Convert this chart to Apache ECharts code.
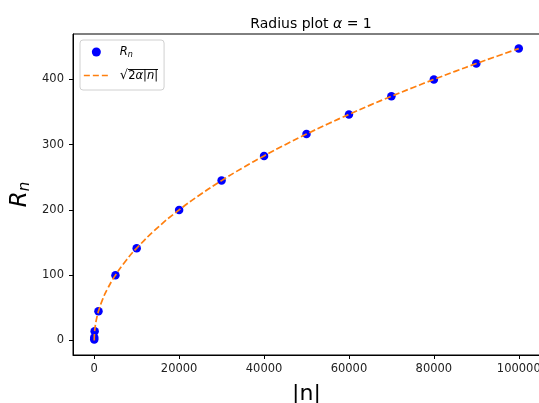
<!DOCTYPE html>
<html><head><meta charset="utf-8">
<script src="https://cdn.jsdelivr.net/npm/echarts@6/dist/echarts.min.js"></script>
<style>html,body{margin:0;padding:0;background:#fff}#c{width:539px;height:403px}</style>
</head><body><div id="c"></div>
<script>
// Data
const pointN = [1, 10, 100, 1000, 5000, 10000, 20000, 30000, 40000, 50000, 60000, 70000, 80000, 90000, 100000];
const pointR = [1.4, 4.5, 14.1, 44.7, 100, 141.4, 200, 244.9, 282.8, 316.2, 346.4, 374.2, 400, 424.3, 447.2];
const curveN = [0, 50, 200, 500, 1000, 2000, 3000, 5000, 7500, 10000, 15000, 20000, 25000, 30000, 35000, 40000, 45000, 50000, 55000, 60000, 65000, 70000, 75000, 80000, 85000, 90000, 95000, 100000];
const curveR = [0, 10, 20, 31.6, 44.7, 63.2, 77.5, 100, 122.5, 141.4, 173.2, 200, 223.6, 244.9, 264.6, 282.8, 300, 316.2, 331.7, 346.4, 360.6, 374.2, 387.3, 400, 412.3, 424.3, 435.9, 447.2];
const xTicks = [0, 20000, 40000, 60000, 80000, 100000];
const yTicks = [0, 100, 200, 300, 400];

const font = 'DejaVu Sans';

// small image used as an overline over the square-root text
const cv = document.createElement('canvas');
cv.width = 4; cv.height = 15;
const cx = cv.getContext('2d');
cx.fillStyle = '#000'; cx.fillRect(0, 0, 4, 1);
const overline = cv.toDataURL();

const chart = echarts.init(document.getElementById('c'), null, {renderer: 'canvas'});
chart.setOption({
  animation: false,
  backgroundColor: '#fff',
  title: {
    text: 'Radius plot {i|α}{t| = 1}',
    left: 306, top: 12, textAlign: 'center',
    textStyle: {fontFamily: font, fontSize: 14, fontWeight: 'normal', color: '#000',
      rich: {
        i: {fontFamily: font, fontStyle: 'italic', fontSize: 14, color: '#000'},
        t: {fontFamily: font, fontSize: 14, color: '#000'}
      }}
  },
  grid: {left: 73, top: 34, right: -1, bottom: 48, show: true, borderColor: '#000', borderWidth: 1,
    containLabel: false, outerBoundsMode: 'none'},
  legend: {
    orient: 'vertical', left: 80, top: 40,
    itemWidth: 25, itemHeight: 9, itemGap: 10,
    padding: [6, 6, 8, 3],
    borderColor: '#d0d0d0', borderWidth: 1, borderRadius: 3,
    backgroundColor: 'rgba(255,255,255,0.8)',
    lineStyle: {color: '#ff7f0e', width: 1.7, type: [6, 3], opacity: 1},
    data: [
      {name: 'Rn', icon: 'circle', itemStyle: {color: '#0000ff', opacity: 1}},
      {name: 'sqrt', itemStyle: {opacity: 0}, lineStyle: {color: '#ff7f0e', width: 1.7, type: [6, 3], opacity: 1}}
    ],
    formatter: function (name) {
      if (name === 'Rn') return '{i|R}{s|n}';
      return '{r|√}{t|2}{ti|α}{t||}{ti|n}{t||}';
    },
    textStyle: {
      fontFamily: font, fontSize: 11.5, color: '#000',
      rich: {
        i: {fontFamily: font, fontStyle: 'italic', fontSize: 11.5, color: '#000', padding: [0, 0, 0, 6]},
        s: {fontFamily: font, fontStyle: 'italic', fontSize: 8, color: '#000', verticalAlign: 'bottom', padding: [6, 0, 0, 0]},
        r: {fontFamily: font, fontSize: 13, color: '#000', padding: [0, 0, 0, 6]},
        t: {fontFamily: font, fontSize: 11.5, color: '#000', backgroundColor: {image: overline}, padding: [1, 0, 0, 0]},
        ti: {fontFamily: font, fontStyle: 'italic', fontSize: 11.5, color: '#000', backgroundColor: {image: overline}, padding: [1, 0, 0, 0]}
      }
    }
  },
  xAxis: {
    type: 'value', min: -5000, max: 105000,
    name: '|n|', nameLocation: 'middle', nameGap: 28,
    nameTextStyle: {fontFamily: font, fontSize: 22, color: '#000'},
    axisLine: {show: true, onZero: false, lineStyle: {color: '#000', width: 1}},
    axisTick: {show: true, length: 4, lineStyle: {color: '#000'}, customValues: xTicks},
    axisLabel: {fontFamily: font, fontSize: 11.5, color: '#222', margin: 8, customValues: xTicks,
      formatter: v => String(v)},
    splitLine: {show: false}
  },
  yAxis: {
    type: 'value', min: -22.36, max: 469.6,
    name: '{i|R}{s|n}', nameLocation: 'middle', nameGap: 40, nameRotate: 90, nameMoveOverlap: false,
    nameTextStyle: {fontFamily: font, fontSize: 22, color: '#000',
      rich: {
        i: {fontFamily: font, fontStyle: 'italic', fontSize: 23, color: '#000'},
        s: {fontFamily: font, fontStyle: 'italic', fontSize: 15, color: '#000', verticalAlign: 'bottom', padding: [10, 0, 0, 0]}
      }},
    axisLine: {show: true, onZero: false, lineStyle: {color: '#000', width: 1}},
    axisTick: {show: true, length: 4, lineStyle: {color: '#000'}, customValues: yTicks},
    axisLabel: {fontFamily: font, fontSize: 11.5, color: '#222', margin: 9, customValues: yTicks,
      formatter: v => String(v)},
    splitLine: {show: false}
  },
  series: [
    {
      name: 'Rn', type: 'scatter', symbol: 'circle', symbolSize: 8.5,
      itemStyle: {color: '#0000ff', opacity: 1}, z: 2,
      data: pointN.map((n, i) => [n, pointR[i]])
    },
    {
      name: 'sqrt', type: 'line', smooth: true, symbol: 'none', showSymbol: false, z: 3,
      lineStyle: {color: '#ff7f0e', width: 1.7, type: [6.4, 2.8]},
      itemStyle: {color: '#ff7f0e'},
      data: curveN.map((n, i) => [n, curveR[i]])
    }
  ]
});
</script></body></html>
